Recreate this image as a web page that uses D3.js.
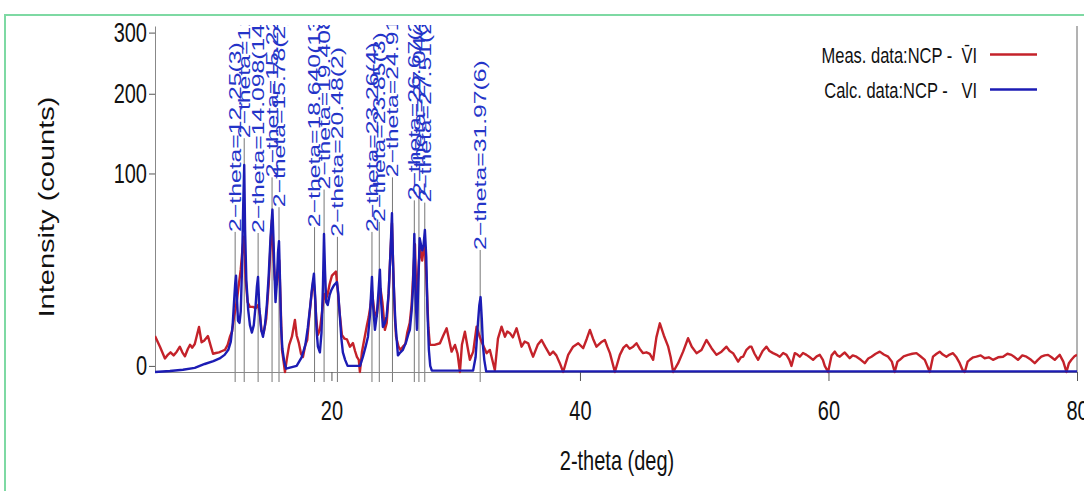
<!DOCTYPE html>
<html>
<head>
<meta charset="utf-8">
<script src="https://cdn.jsdelivr.net/npm/d3@7"></script>
<style>
  body { margin: 0; background: #fff; }
  svg { display: block; }
  text { font-family: "Liberation Sans", Arial, sans-serif; }
</style>
</head>
<body>
<svg id="chart" width="1084" height="491"></svg>
<script>
// calculated pattern (blue)
let calcTheta = [5.8, 7.0, 8.05, 9.0, 9.8, 10.5, 11.0, 11.4, 11.7, 11.9, 12.05, 12.16, 12.25, 12.32, 12.4, 12.48, 12.6, 12.7, 12.8, 12.9,
  12.98, 13.05, 13.15, 13.3, 13.44, 13.6, 13.75, 13.9, 14.0, 14.09, 14.2, 14.35, 14.49, 14.65, 14.8, 14.95, 15.1, 15.25, 15.33, 15.42,
  15.5, 15.6, 15.7, 15.78, 15.85, 15.95, 16.05, 16.2, 16.35, 17.2, 17.6, 17.9, 18.1, 18.3, 18.45, 18.59, 18.7, 18.8, 18.91, 19.07,
  19.2, 19.32, 19.4, 19.48, 19.58, 19.7, 19.85, 20.0, 20.2, 20.44, 20.55, 20.65, 20.8, 20.92, 21.1, 21.3, 22.3, 22.53, 22.75, 22.94,
  23.1, 23.2, 23.26, 23.35, 23.5, 23.65, 23.8, 23.9, 24.0, 24.14, 24.3, 24.44, 24.6, 24.75, 24.87, 24.95, 25.05, 25.15, 25.35, 25.55,
  25.75, 26.0, 26.2, 26.31, 26.45, 26.56, 26.67, 26.78, 26.88, 27.0, 27.1, 27.2, 27.31, 27.42, 27.52, 27.63, 27.73, 27.84, 27.95, 28.08,
  31.4, 31.6, 31.79, 31.9, 32.0, 32.1, 32.2, 32.3, 32.45, 80];
let calcCounts = [-0.1, -0.07, -0.04, -0.01, 0.01, 0.06, 0.15, 0.33, 0.7, 1.6, 4.5, 11, 18, 22, 12, 5.5, 5.0, 8, 25, 70,
  109, 50, 20, 8.5, 4.5, 3.0, 4.5, 10, 17, 21.4, 9, 3.5, 2.3, 4.5, 10, 22, 45, 66, 45, 22,
  11, 18, 35, 42, 22, 4, 0.8, 0.05, -0.02, 0, 0.2, 1.2, 4, 10, 17, 23, 12, 3.5, 1.0, 0.5,
  3, 18, 47, 25, 11, 10, 13.5, 15.6, 17.5, 19, 14, 8, 2.0, 0.5, 0.1, 0, 0, 0.22, 1.0, 2.3,
  7, 15, 21.4, 10, 3.5, 7, 16, 25, 11, 4.1, 5, 6.6, 14, 35, 63, 30, 13, 5, 0.3, 0.5,
  0.7, 1.5, 2.8, 3.5, 8, 16, 47, 12, 3.5, 20, 44, 40, 36, 40, 50, 32, 8, 0.7, 0.0, -0.06,
  -0.06, 0.2, 5, 10, 12.8, 6, 1, 0.1, -0.08, -0.08];

// measured pattern (red)
let measTheta = [5.8, 6.2, 6.6, 6.85, 7.05, 7.3, 7.55, 7.8, 8.0, 8.21, 8.45, 8.62, 8.8, 9.0, 9.34, 9.55, 9.75, 10.06, 10.3, 10.47,
  10.7, 10.95, 11.2, 11.43, 11.65, 11.83, 12.0, 12.16, 12.3, 12.4, 12.55, 12.7, 12.85, 12.96, 13.1, 13.25, 13.44, 13.68, 13.9, 14.1,
  14.25, 14.38, 14.55, 14.75, 14.95, 15.1, 15.21, 15.35, 15.45, 15.6, 15.7, 15.8, 15.9, 16.02, 16.15, 16.26, 16.4, 16.6, 16.82, 17.06,
  17.2, 17.38, 17.55, 17.71, 17.9, 18.05, 18.2, 18.4, 18.55, 18.65, 18.78, 18.91, 19.07, 19.25, 19.4, 19.55, 19.7, 19.85, 20.04, 20.2,
  20.36, 20.5, 20.65, 20.84, 21.05, 21.25, 21.49, 21.73, 21.9, 22.05, 22.2, 22.29, 22.45, 22.65, 22.86, 23.0, 23.15, 23.26, 23.45, 23.64,
  23.8, 23.95, 24.1, 24.3, 24.45, 24.6, 24.75, 24.87, 25.0, 25.11, 25.2, 25.4, 25.55, 25.75, 25.95, 26.1, 26.3, 26.45, 26.6, 26.72,
  26.85, 27.0, 27.12, 27.3, 27.5, 27.65, 27.8, 27.92, 28.3, 28.73, 29.0, 29.27, 29.67, 29.94, 30.15, 30.34, 30.5, 30.74, 30.95, 31.14,
  31.41, 31.68, 31.9, 32.1, 32.49, 32.75, 33.15, 33.4, 33.69, 33.96, 34.15, 34.36, 34.6, 34.9, 35.3, 35.55, 35.83, 36.05, 36.23, 36.6,
  36.91, 37.2, 37.58, 37.84, 38.1, 38.38, 38.65, 39.05, 39.45, 39.86, 40.26, 40.55, 40.8, 41.05, 41.33, 41.7, 42.0, 42.2, 42.41, 42.81,
  43.21, 43.5, 43.75, 44.0, 44.28, 44.55, 44.8, 45.08, 45.35, 45.62, 45.89, 46.15, 46.43, 46.75, 47.1, 47.3, 47.5, 47.9, 48.3, 48.7,
  49.0, 49.38, 49.78, 50.18, 50.59, 50.99, 51.39, 51.79, 52.05, 52.32, 52.73, 52.95, 53.13, 53.4, 53.67, 53.8, 54.05, 54.34, 54.7, 55.01,
  55.25, 55.54, 55.8, 56.08, 56.35, 56.62, 56.85, 57.02, 57.29, 57.5, 57.69, 57.95, 58.23, 58.5, 58.76, 59.05, 59.3, 59.55, 59.7, 59.97,
  60.25, 60.51, 60.71, 60.91, 61.1, 61.31, 61.51, 61.71, 61.95, 62.25, 62.6, 62.92, 63.2, 63.46, 63.8, 64.13, 64.45, 64.8, 65.1, 65.33,
  65.55, 65.74, 66.05, 66.4, 66.75, 67.08, 67.4, 67.75, 67.95, 68.15, 68.41, 68.7, 68.95, 69.2, 69.49, 69.75, 70.02, 70.3, 70.56, 70.8,
  70.97, 71.2, 71.37, 71.65, 71.91, 72.25, 72.57, 72.9, 73.24, 73.65, 74.05, 74.4, 74.72, 75.0, 75.25, 75.6, 75.93, 76.3, 76.6, 76.85,
  77.13, 77.4, 77.67, 77.95, 78.21, 78.4, 78.61, 78.9, 79.15, 79.35, 79.55, 79.8, 80.0];
let measCounts = [2.4, 1.0, 0.15, 0.35, 0.5, 0.3, 0.55, 1.0, 0.5, 0.25, 0.8, 1.2, 0.9, 1.3, 4.1, 1.5, 1.7, 2.4, 1.0, 0.4,
  0.45, 0.5, 0.6, 0.7, 1.2, 2.3, 3.2, 6.5, 9, 12, 18, 25, 38, 45, 20, 11, 9.4, 9.4, 9, 10,
  7, 3.2, 3.0, 6, 18, 40, 57.5, 30, 20, 18, 25, 30, 12, 0.7, 0.05, -0.1, 0.1, 1.2, 2.3, 5.7,
  2.5, 1.4, 0.4, 0.22, 1.2, 1.8, 6, 14, 20, 15, 6, 2.6, 3.5, 8, 14, 12, 14, 18, 22, 23,
  24, 16, 8, 2.6, 2.0, 1.9, 1.0, 1.4, 0.6, 0.22, 0.1, -0.1, 0.5, 2, 4.5, 6.5, 10, 15, 8, 6.6,
  12, 16, 11, 3.5, 5, 14, 35, 55, 20, 6, 2.3, 1.0, 0.7, 1.0, 1.3, 3, 5, 10, 25, 40,
  10, 25, 38, 30, 42, 20, 4, 1.19, 1.2, 1.39, 2.5, 3.83, 0.55, 1.19, 0.4, -0.1, 1.2, 3.17, 1.0, 0.1,
  0.55, 4.17, 2.5, 1.5, 0.44, 0.69, -0.05, 2, 4.17, 2.3, 3.2, 2.9, 2.2, 3.83, 1.0, 1.6, 1.39, 0.6, 0.23, 1.2,
  1.82, 1.0, 0.33, 0.55, 0.3, 0.02, -0.1, 0.33, 1.0, 1.39, 0.85, 2.0, 3.5, 2.0, 1.0, 1.5, 1.82, 1.0, 0.44, -0.1,
  0.33, 0.9, 1.19, 0.8, 1.0, 1.39, 0.8, 0.44, 0.5, 0.39, 0.1, 2.2, 4.9, 2.5, 1.0, 0.2, -0.1, 0.02, 0.55, 2.07,
  1.0, 0.44, 0.69, 1.82, 0.85, 0.33, 0.55, 1.0, 0.6, 0.44, 0.05, 0.2, 0.23, 0.7, 1.0, 1.0, 0.4, 0.1, 0.6, 1.0,
  0.6, 0.44, 0.35, 0.23, 0.45, 0.33, 0.1, 0, 0.44, 0.35, 0.23, 0.45, 0.33, 0.2, 0.1, 0.25, 0.33, 0.1, 0, -0.1,
  0.3, 0.55, 0.3, 0.23, 0.35, 0.48, 0.3, 0.16, 0.3, 0.23, 0.1, 0.02, 0.15, 0.23, 0.4, 0.55, 0.35, 0.23, 0.05, -0.1,
  0.05, 0.1, 0.25, 0.33, 0.4, 0.44, 0.25, 0.1, 0, -0.1, 0.23, 0.4, 0.55, 0.35, 0.23, 0.35, 0.44, 0.2, 0.02, -0.05,
  -0.1, 0.05, 0.1, 0.2, 0.23, 0.3, 0.16, 0.2, 0.1, 0.2, 0.23, 0.4, 0.33, 0.2, 0.1, 0.3, 0.23, 0.1, 0.02, 0.1,
  0.23, 0.3, 0.33, 0.2, 0.1, 0.2, 0.33, 0.05, -0.1, 0.02, 0.1, 0.25, 0.33];

// reflection labels
let peakTheta = [12.25, 12.98, 14.098, 15.22, 15.78, 18.64, 19.408, 20.48, 23.26, 23.85, 24.91, 26.67, 27.04, 27.51, 31.97];
let peakText = ["2−theta=12.25(3)", "2−theta=12.98(2)", "2−theta=14.098(14)", "2−theta=15.22(2)", "2−theta=15.78(2)",
  "2−theta=18.640(13)", "2−theta=19.408(13)", "2−theta=20.48(2)", "2−theta=23.26(4)", "2−theta=23.85(3)",
  "2−theta=24.91(2)", "2−theta=26.67(2)", "2−theta=27.04(3)", "2−theta=27.51(2)", "2−theta=31.97(6)"];
let peakLevel = [48.5, 140, 47.7, 96, 68, 52, 84, 45, 48.5, 56, 96, 74, 78, 72, 36.3];

let xTicks = [20, 40, 60, 80];
let yTicks = [0, 100, 200, 300];
let legendText = ["Meas. data:NCP -  V\u0304I", "Calc. data:NCP -   VI"];

let redColor = "#c4222a";
let blueColor = "#1c1cb4";
let stretch = 1.35; // the original picture is squeezed sideways

let svg = d3.select("#chart");

let x = d3.scaleLinear().domain([5.8, 80]).range([155, 1077]);
let y = d3.scaleSqrt().domain([-0.1, 312]).range([372, 26]);

// green frame
svg.append("path")
  .attr("d", "M5,491V15H1084")
  .attr("fill", "none")
  .attr("stroke", "#7ed9a3")
  .attr("stroke-width", 2);

let defs = svg.append("defs");
defs.append("clipPath").attr("id", "plotClip")
  .append("rect").attr("x", 155).attr("y", 26).attr("width", 922).attr("height", 349);
defs.append("clipPath").attr("id", "labClip")
  .append("rect").attr("x", 155).attr("y", 25).attr("width", 922).attr("height", 360);

// reflection marker lines
let markers = svg.append("g").attr("clip-path", "url(#labClip)");
markers.selectAll("line")
  .data(peakTheta)
  .enter()
  .append("line")
  .attr("x1", (d) => x(d))
  .attr("x2", (d) => x(d))
  .attr("y1", y.range()[0] + 10)
  .attr("y2", (d, i) => y(peakLevel[i]))
  .attr("stroke", "#777")
  .attr("stroke-width", 1);

// axes
let yAxis = svg.append("g")
  .attr("transform", "translate(155,0)")
  .call(d3.axisLeft(y).tickValues(yTicks).tickFormat(d3.format("d")).tickSize(6).tickSizeOuter(0).tickPadding(2));
yAxis.select(".domain").attr("stroke", "#888");
yAxis.selectAll(".tick line").attr("stroke", "#555");
yAxis.selectAll(".tick text")
  .attr("font-size", 20)
  .attr("font-family", "Liberation Sans, Arial, sans-serif")
  .attr("fill", "#111")
  .attr("transform", `scale(1,${stretch})`);

let xAxis = svg.append("g")
  .attr("transform", "translate(0,372)")
  .call(d3.axisBottom(x).tickValues(xTicks).tickSize(9).tickSizeOuter(0).tickPadding(12));
xAxis.select(".domain").attr("stroke", "#888");
xAxis.selectAll(".tick line").attr("stroke", "#555");
xAxis.selectAll(".tick text")
  .attr("font-size", 20)
  .attr("font-family", "Liberation Sans, Arial, sans-serif")
  .attr("fill", "#111")
  .attr("transform", `scale(1,${stretch})`);

// right frame line
svg.append("line")
  .attr("x1", x(80)).attr("x2", x(80))
  .attr("y1", y.range()[1]).attr("y2", y.range()[0])
  .attr("stroke", "#666");

// curves
let line = d3.line()
  .x((d) => x(d[0]))
  .y((d) => y(d[1]));

let plot = svg.append("g").attr("clip-path", "url(#plotClip)");
plot.append("path")
  .datum(d3.zip(measTheta, measCounts))
  .attr("d", line)
  .attr("fill", "none")
  .attr("stroke", redColor)
  .attr("stroke-width", 2.4)
  .attr("stroke-linejoin", "round");
plot.append("path")
  .datum(d3.zip(calcTheta, calcCounts))
  .attr("d", line)
  .attr("fill", "none")
  .attr("stroke", blueColor)
  .attr("stroke-width", 2.4)
  .attr("stroke-linejoin", "round");

// reflection labels (stretched along their length like the original)
let labels = svg.append("g").attr("clip-path", "url(#labClip)");
labels.selectAll("text")
  .data(peakTheta)
  .enter()
  .append("text")
  .attr("transform", (d, i) => `translate(${x(d)},${y(peakLevel[i])}) rotate(-90) scale(1.5,1)`)
  .attr("dy", "0.36em")
  .attr("font-size", 16.5)
  .attr("fill", "#2434c8")
  .text((d, i) => peakText[i]);

// axis titles
svg.append("text")
  .attr("transform", `translate(617,470) scale(1,${stretch})`)
  .attr("text-anchor", "middle")
  .attr("font-size", 20)
  .attr("fill", "#111")
  .text("2-theta (deg)");

svg.append("text")
  .attr("transform", `translate(54,207) rotate(-90) scale(${stretch},1)`)
  .attr("text-anchor", "middle")
  .attr("font-size", 21.5)
  .attr("fill", "#111")
  .text("Intensity (counts)");

// legend
let legendColors = [redColor, blueColor];
let legend = svg.append("g");
legendText.forEach((t, i) => {
  let ly = 54.5 + i * 35;
  legend.append("text")
    .attr("transform", `translate(977,${ly + 8.5}) scale(1,${stretch})`)
    .attr("text-anchor", "end")
    .attr("font-size", 16.5)
    .attr("fill", "#111")
    .style("white-space", "pre")
    .text(t);
  legend.append("line")
    .attr("x1", 990).attr("x2", 1037)
    .attr("y1", ly).attr("y2", ly)
    .attr("stroke", legendColors[i])
    .attr("stroke-width", 2.5);
});
</script>
</body>
</html>
